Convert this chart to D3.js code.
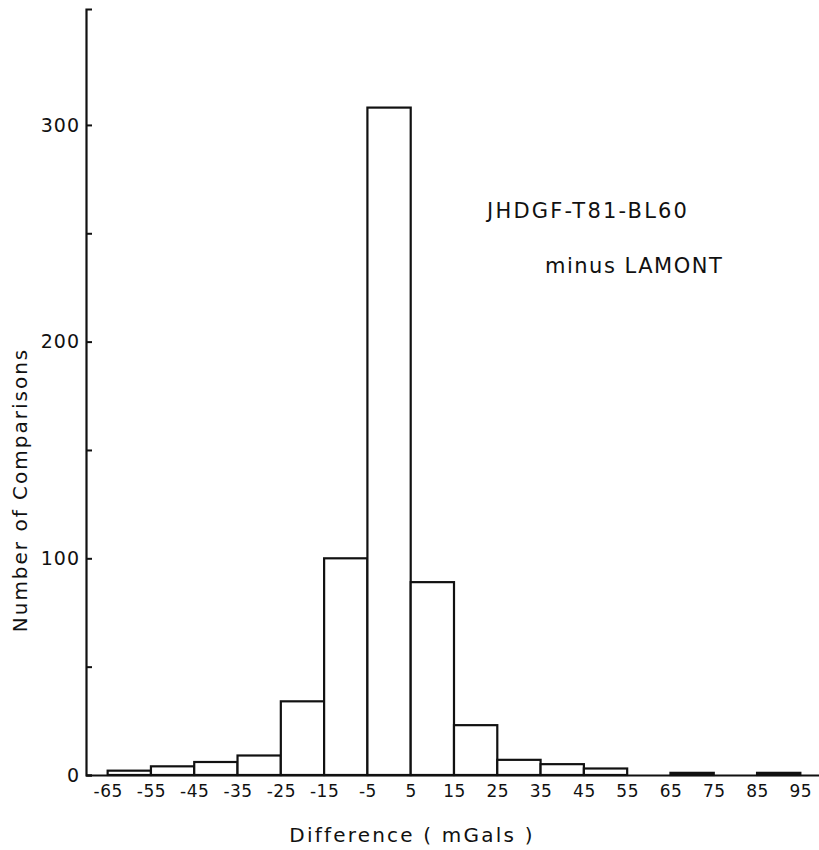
<!DOCTYPE html>
<html>
<head>
    <meta charset='utf-8'>
    <title>Histogram</title>
    <script src='https://d3js.org/d3.v7.min.js'></script>
    <style>
        body { margin: 0; background: #fff; }
        text { font-family: 'DejaVu Sans', sans-serif; fill: #111; }
    </style>
</head>
<body>
<div id='chart'></div>
<script type='text/javascript'>
    // bins of 10 mGal, left edges
    let binStarts = [-65, -55, -45, -35, -25, -15, -5, 5, 15, 25, 35, 45, 55, 65, 75, 85];
    let counts    = [2, 4, 6, 9, 34, 100, 308, 89, 23, 7, 5, 3, 0, 1, 0, 1];
    let xTickLabels = [-65, -55, -45, -35, -25, -15, -5, 5, 15, 25, 35, 45, 55, 65, 75, 85, 95];
    let yTickLabels = [0, 100, 200, 300];
    let yMinorTicks = [50, 150, 250];
    let binWidth = 10;

    let W = 819, H = 850;

    let svg = d3.select('#chart')
            .append('svg')
                .attr('width', W)
                .attr('height', H);

    let xScale = d3.scaleLinear().domain([-70, 100]).range([86, 822]);
    let yScale = d3.scaleLinear().domain([0, 353.5]).range([775, 9]);

    // bars
    svg.selectAll('rect.bar')
        .data(binStarts)
        .enter()
        .append('rect')
            .attr('class', 'bar')
            .attr('x', (d) => xScale(d))
            .attr('y', (d, i) => yScale(counts[i]))
            .attr('width', (d) => xScale(d + binWidth) - xScale(d))
            .attr('height', (d, i) => yScale(0) - yScale(counts[i]))
            .attr('fill', 'white')
            .attr('stroke', '#111')
            .attr('stroke-width', 2.2);

    // eixo X (no tick marks, labels at bin edges)
    let xAxis = d3.axisBottom(xScale)
                  .tickValues(xTickLabels)
                  .tickSize(0)
                  .tickPadding(8)
                  .tickFormat((d) => String(d));

    let gx = svg.append('g')
       .attr('transform', `translate(0,${yScale(0)})`)
       .call(xAxis);
    gx.select('.domain').attr('stroke', '#111').attr('stroke-width', 2.2);
    gx.selectAll('text')
      .attr('font-size', '17px')
      .attr('font-family', 'DejaVu Sans, sans-serif')
      .attr('letter-spacing', '0.5px')
      .attr('fill', '#111')
      .attr('dy', '0.85em');

    // eixo Y: ticks point inward
    let yAxis = d3.axisLeft(yScale)
                  .tickValues(yTickLabels.concat(yMinorTicks))
                  .tickSize(-6)
                  .tickFormat((d) => yTickLabels.includes(d) ? d : '');

    let gy = svg.append('g')
       .attr('transform', `translate(${xScale(-70)},0)`)
       .call(yAxis);
    gy.select('.domain').attr('stroke', '#111').attr('stroke-width', 2.2);
    gy.selectAll('line').attr('stroke', '#111').attr('stroke-width', 2);
    gy.selectAll('text')
      .attr('font-size', '19px')
      .attr('font-family', 'DejaVu Sans, sans-serif')
      .attr('letter-spacing', '1px')
      .attr('fill', '#111')
      .attr('x', -6);

    // axis titles
    svg.append('text')
       .attr('x', 412)
       .attr('y', 842)
       .style('text-anchor', 'middle')
       .attr('font-size', '20px')
       .attr('letter-spacing', '2.2px')
       .text('Difference ( mGals )');

    svg.append('text')
       .attr('transform', 'rotate(-90)')
       .attr('x', -490)
       .attr('y', 27)
       .style('text-anchor', 'middle')
       .attr('font-size', '20px')
       .attr('letter-spacing', '2px')
       .text('Number of Comparisons');

    // annotation
    svg.append('text')
       .attr('x', 487)
       .attr('y', 218)
       .attr('font-size', '21px')
       .attr('letter-spacing', '2.2px')
       .text('JHDGF-T81-BL60');

    svg.append('text')
       .attr('x', 545)
       .attr('y', 273)
       .attr('font-size', '21px')
       .attr('letter-spacing', '1.5px')
       .text('minus  LAMONT');
</script>
</body>
</html>
